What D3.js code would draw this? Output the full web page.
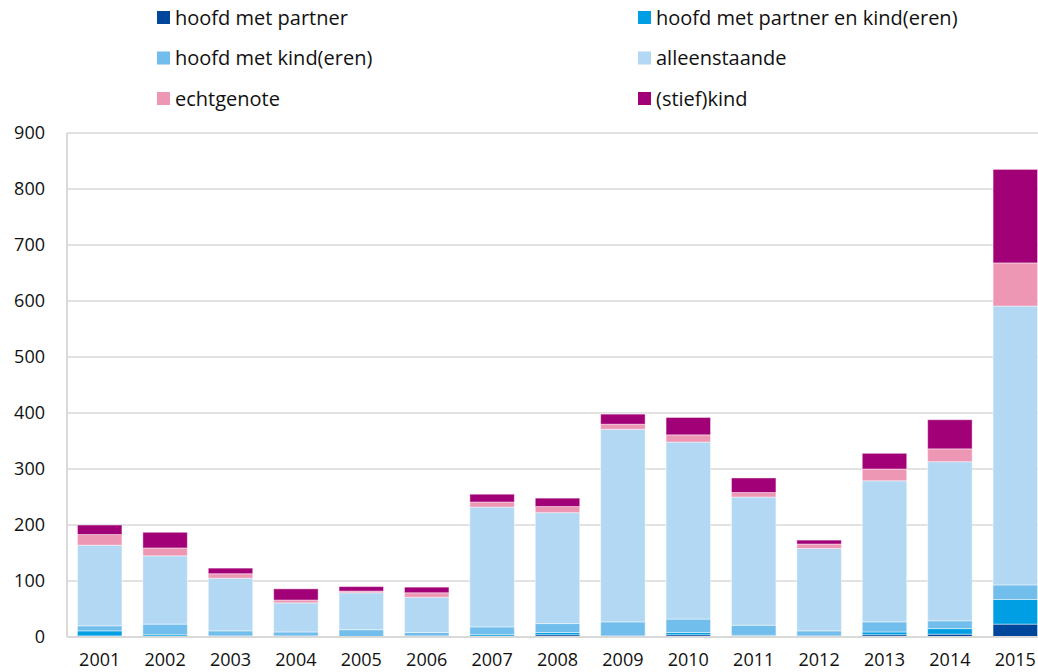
<!DOCTYPE html>
<html>
<head>
<meta charset="utf-8">
<script src="https://cdn.jsdelivr.net/npm/d3@7"></script>
<style>
    body { margin: 0; background: #fff; }
    svg { display: block; font-family: 'Open Sans', sans-serif; }
</style>
</head>
<body>
<svg id="chart" width="1038" height="672"></svg>
<script>
var years = ['2001', '2002', '2003', '2004', '2005', '2006', '2007', '2008',
    '2009', '2010', '2011', '2012', '2013', '2014', '2015'];

var seriesNames = ['hoofd met partner', 'hoofd met partner en kind(eren)',
    'hoofd met kind(eren)', 'alleenstaande', 'echtgenote', '(stief)kind'];

var hoofdMetPartner     = [2, 1, 0, 0, 0, 1, 0, 4, 0, 4, 1, 1, 4, 5, 23];
var hoofdMetPartnerKind = [9, 3, 2, 2, 0, 1, 4, 4, 2, 4, 2, 1, 5, 10, 44];
var hoofdMetKind        = [9, 19, 9, 7, 13, 6, 14, 16, 25, 24, 18, 9, 18, 14, 26];
var alleenstaande       = [144, 122, 94, 52, 66, 63, 214, 198, 344, 316, 229, 147, 252, 284, 498];
var echtgenote          = [19, 14, 8, 5, 3, 8, 9, 11, 9, 13, 8, 8, 21, 23, 77];
var stiefkind           = [17, 28, 10, 20, 8, 10, 14, 15, 18, 31, 26, 7, 28, 52, 167];

var yTicks = [0, 100, 200, 300, 400, 500, 600, 700, 800, 900];

var colors = ['#00469b', '#009fe3', '#71bdec', '#b3d8f4', '#ee97b4', '#a10076'];

var seriesValues = [hoofdMetPartner, hoofdMetPartnerKind, hoofdMetKind,
    alleenstaande, echtgenote, stiefkind];

// rows for d3.stack
var rows = years.map(function(year, i) {
    var row = { year: year };
    seriesNames.forEach(function(name, k) {
        row[name] = seriesValues[k][i];
    });
    return row;
});

var svg = d3.select('#chart');
var plotLeft = 67, plotRight = 1048, plotTop = 133, plotBottom = 637;

var xScale = d3.scaleBand().domain(years).range([plotLeft, plotRight])
    .paddingInner(0.32).paddingOuter(0.16);
var yScale = d3.scaleLinear().domain([0, 900]).range([plotBottom, plotTop]);

var stacked = d3.stack().keys(seriesNames)(rows);

/* Grid */
svg.append('g')
    .selectAll('line')
    .data(yTicks.slice(1))
    .join('line')
    .attr('x1', plotLeft)
    .attr('x2', 1038)
    .attr('y1', function(d) { return yScale(d); })
    .attr('y2', function(d) { return yScale(d); })
    .style('stroke', '#d9d9d9')
    .style('stroke-width', 1.5);

/* Bars */
svg.append('g')
    .selectAll('g')
    .data(stacked)
    .join('g')
    .style('fill', function(d, i) { return colors[i]; })
    .selectAll('rect')
    .data(function(d) { return d; })
    .join('rect')
    .attr('x', function(d) { return xScale(d.data.year); })
    .attr('width', xScale.bandwidth())
    .attr('y', function(d) { return yScale(d[1]); })
    .attr('height', function(d) { return yScale(d[0]) - yScale(d[1]); })
    .style('stroke', '#fff')
    .style('stroke-opacity', 0.45)
    .style('stroke-width', 1);

/* Axes */
svg.append('line')
    .attr('x1', plotLeft).attr('x2', plotLeft)
    .attr('y1', plotTop).attr('y2', plotBottom)
    .style('stroke', '#d9d9d9')
    .style('stroke-width', 2);

svg.append('line')
    .attr('x1', plotLeft).attr('x2', 1038)
    .attr('y1', plotBottom).attr('y2', plotBottom)
    .style('stroke', '#d9d9d9')
    .style('stroke-width', 2);

svg.append('g')
    .selectAll('text')
    .data(yTicks)
    .join('text')
    .attr('x', 45)
    .attr('y', function(d) { return yScale(d); })
    .attr('dy', '0.35em')
    .style('text-anchor', 'end')
    .style('font-size', '18px')
    .style('fill', '#111')
    .text(function(d) { return d; });

svg.append('g')
    .selectAll('text')
    .data(years)
    .join('text')
    .attr('x', function(d) { return xScale(d) + xScale.bandwidth() / 2; })
    .attr('y', 666)
    .style('text-anchor', 'middle')
    .style('font-size', '18px')
    .style('fill', '#111')
    .text(function(d) { return d; });

/* Legend */
var legend = svg.append('g')
    .selectAll('g')
    .data(seriesNames)
    .join('g')
    .attr('transform', function(d, i) {
        var col = i % 2, row = Math.floor(i / 2);
        return 'translate(' + (col === 0 ? 157 : 638) + ', ' + (11 + row * 40.5) + ')';
    });

legend.append('rect')
    .attr('width', 13)
    .attr('height', 13)
    .style('fill', function(d, i) { return colors[i]; });

legend.append('text')
    .attr('x', 18)
    .attr('y', 6.5)
    .attr('dy', '0.35em')
    .style('font-size', '20px')
    .style('fill', '#111')
    .text(function(d) { return d; });
</script>
</body>
</html>
